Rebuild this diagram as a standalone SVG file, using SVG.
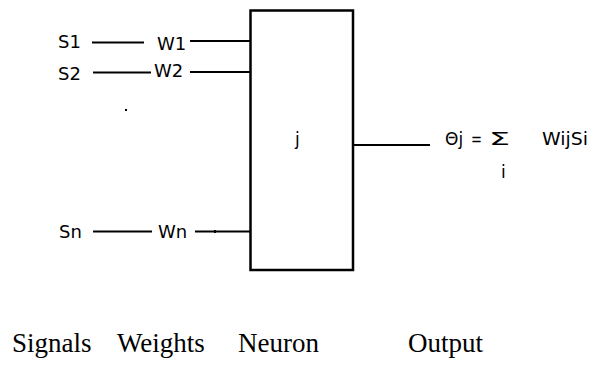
<svg xmlns="http://www.w3.org/2000/svg" width="591" height="369" viewBox="0 0 591 369">
<style>
.t{font-family:"DejaVu Sans","Noto Sans",sans-serif;font-size:18px;fill:#000}
.o{font-family:"DejaVu Sans","Noto Sans",sans-serif;font-size:17px;fill:#000}
.b{font-family:"Liberation Serif","Times New Roman",serif;font-size:27px;fill:#000}
.c{stroke:#000;stroke-width:2;fill:none}
</style>
<rect width="591" height="369" fill="#fff"/>
<g id="connectors">
<line class="c" x1="92" y1="42.5" x2="144" y2="42.5"/>
<line class="c" x1="190" y1="41" x2="250" y2="41"/>
<line class="c" x1="93" y1="72.5" x2="151" y2="72.5" stroke-width="2.5"/>
<line class="c" x1="190" y1="72" x2="250" y2="72"/>
<line class="c" x1="93" y1="231.5" x2="152" y2="231.5"/>
<line class="c" x1="195" y1="231.5" x2="250" y2="231.5"/>
<rect x="214" y="230" width="2" height="3" fill="#000"/>
<line class="c" x1="353" y1="145" x2="430" y2="145"/>
</g>
<g id="neuron">
<rect x="250.5" y="10.5" width="102.5" height="259.5" fill="none" stroke="#000" stroke-width="2.5"/>
<text class="o" x="295" y="145">j</text>
</g>
<g id="signals">
<text class="t" x="58" y="48">S1</text>
<text class="t" x="58" y="80">S2</text>
<rect x="125" y="109" width="2" height="2" fill="#000"/>
<text class="t" x="59" y="238">Sn</text>
</g>
<g id="weights">
<text class="t" x="157" y="50">W1</text>
<text class="t" x="154" y="77">W2</text>
<text class="t" x="158" y="238">Wn</text>
</g>
<g id="output">
<text class="o" x="445" y="145">Θj</text>
<text class="o" x="471" y="145" textLength="11" lengthAdjust="spacingAndGlyphs">=</text>
<text class="o" x="489" y="145" font-size="19" textLength="21" lengthAdjust="spacingAndGlyphs">Σ</text>
<text class="o" x="542" y="145" textLength="46" lengthAdjust="spacingAndGlyphs">WijSi</text>
<text class="o" x="501" y="178">i</text>
</g>
<g id="labels">
<text class="b" x="12" y="352">Signals</text>
<text class="b" x="117" y="352">Weights</text>
<text class="b" x="238" y="352">Neuron</text>
<text class="b" x="408" y="352">Output</text>
</g>
</svg>
